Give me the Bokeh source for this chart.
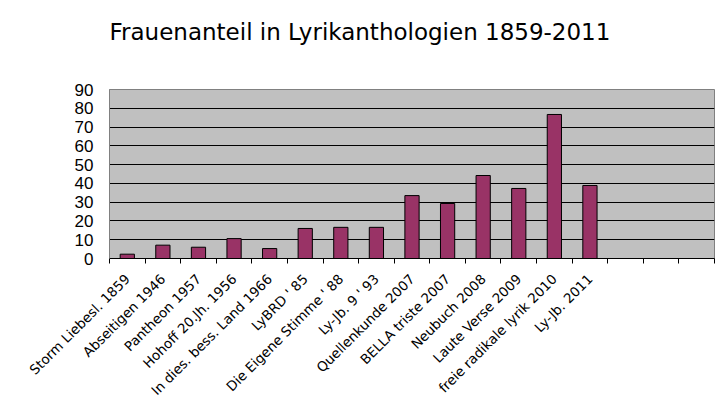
import math
from bokeh.plotting import figure
from bokeh.models import FixedTicker, Range1d, ColumnDataSource, Title
from bokeh.embed import file_html
from bokeh.resources import INLINE

title_text = "Frauenanteil in Lyrikanthologien 1859-2011"
categories = [
    "Storm Liebesl. 1859", "Abseitigen 1946", "Pantheon 1957", "Hohoff 20.Jh. 1956",
    "In dies. bess. Land 1966", "LyBRD ' 85", "Die Eigene Stimme ' 88", "Ly-Jb. 9 ' 93",
    "Quellenkunde 2007", "BELLA triste 2007", "Neubuch 2008", "Laute Verse 2009",
    "freie radikale lyrik 2010", "Ly-Jb. 2011", "", "", "",
]
values = [2.3, 7.1, 6.0, 10.6, 5.3, 16.0, 16.6, 16.6, 33.5, 29.3, 44.2, 37.3, 76.7, 38.9]
y_ticks = [0, 10, 20, 30, 40, 50, 60, 70, 80, 90]

n = len(categories)
centers = [i + 0.5 for i in range(len(values))]
src = ColumnDataSource(dict(x=centers, top=values))

p = figure(width=720, height=407, output_backend="svg", toolbar_location=None,
           x_range=Range1d(0, n), y_range=Range1d(0, 90),
           min_border_left=109, min_border_right=6, min_border_top=89, min_border_bottom=149)

# spacer panel between the title and the plot area, then the title itself
p.add_layout(Title(text=" ", text_font_size="10px", standoff=27), "above")
p.add_layout(Title(text=title_text, text_font="DejaVu Sans", text_font_size="23px",
                   text_font_style="normal", text_color="black", align="left",
                   offset=0, standoff=10), "above")

p.background_fill_color = "#C0C0C0"
p.border_fill_color = "white"
p.outline_line_color = "#808080"
p.outline_line_width = 1

p.vbar(x="x", top="top", width=0.4, source=src, fill_color="#993366",
       line_color="black", line_width=1)

# x axis
label_ticks = [i + 0.5 for i in range(n)]
p.xaxis.ticker = FixedTicker(ticks=label_ticks, minor_ticks=list(range(n + 1)))
p.xaxis.major_label_overrides = {t: lab for t, lab in zip(label_ticks, categories)}
p.xaxis.major_label_orientation = math.pi / 4
p.xaxis.major_label_text_font = "DejaVu Sans"
p.xaxis.major_label_text_font_size = "13.5px"
p.xaxis.major_label_text_color = "black"
p.xaxis.major_tick_line_color = None
p.xaxis.minor_tick_line_color = "black"
p.xaxis.minor_tick_out = 5
p.xaxis.minor_tick_in = 0
p.xaxis.axis_line_color = "black"
p.xaxis.major_label_standoff = 12

# y axis
p.yaxis.ticker = FixedTicker(ticks=y_ticks)
p.yaxis.major_label_text_font = "Liberation Sans"
p.yaxis.major_label_text_font_size = "17px"
p.yaxis.major_label_text_color = "black"
p.yaxis.major_tick_line_color = None
p.yaxis.minor_tick_line_color = None
p.yaxis.axis_line_color = "#808080"
p.yaxis.major_label_standoff = 10

p.xgrid.grid_line_color = None
p.ygrid.grid_line_color = "black"
p.ygrid.grid_line_width = 1
p.ygrid.ticker = FixedTicker(ticks=y_ticks)

open("out.html", "w").write(file_html(p, INLINE))
